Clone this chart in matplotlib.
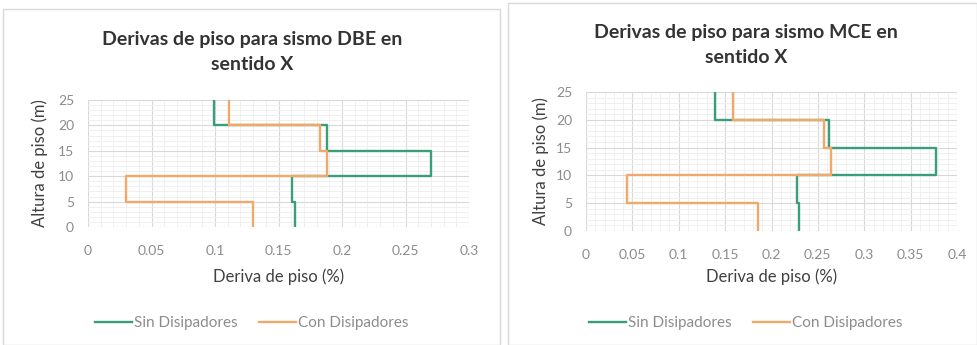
import numpy as np
import matplotlib.pyplot as plt
from matplotlib.patches import Rectangle
from matplotlib.ticker import MultipleLocator

plt.rcParams['font.family'] = ['Lato', 'DejaVu Sans']

# Alturas de piso (m) y derivas por piso (%)
alturas = [0, 5, 10, 15, 20, 25]
dbe_sin = [0.163, 0.161, 0.270, 0.188, 0.099]
dbe_con = [0.130, 0.030, 0.188, 0.183, 0.111]
mce_sin = [0.230, 0.228, 0.377, 0.262, 0.139]
mce_con = [0.185, 0.044, 0.264, 0.257, 0.159]

verde = '#3a9f78'
naranja = '#f2a868'
gris_txt = '#8c8c8c'


def perfil(derivas):
    y = np.repeat(alturas, 2)[1:-1]
    x = np.repeat(derivas, 2)
    return x, y


fig = plt.figure(figsize=(9.78, 3.45), dpi=100)
W, H = 978, 345

# marcos de los graficos
fig.patches.append(Rectangle((3 / W, 0), 497 / W, 1 - 9 / H, transform=fig.transFigure,
                             facecolor='white', edgecolor='#d9d9d9', lw=1, zorder=-10))
fig.patches.append(Rectangle((508 / W, 0), 469 / W, 1 - 3 / H, transform=fig.transFigure,
                             facecolor='white', edgecolor='#d9d9d9', lw=1, zorder=-10))


def grafico(rect, sin, con, xmax, titulo, cx, ty, ylab_x, xlab_y, leg_y):
    ax = fig.add_axes(rect)
    ax.set_facecolor('none')
    x, y = perfil(sin)
    ax.plot(x, y, color=verde, lw=1.7, label='Sin Disipadores')
    x, y = perfil(con)
    ax.plot(x, y, color=naranja, lw=1.7, label='Con Disipadores')
    ax.set_xlim(0, xmax)
    ax.set_ylim(0, 25)
    ax.xaxis.set_major_locator(MultipleLocator(0.05))
    ax.xaxis.set_minor_locator(MultipleLocator(0.01))
    ax.yaxis.set_major_locator(MultipleLocator(5))
    ax.yaxis.set_minor_locator(MultipleLocator(1))
    ax.grid(which='major', color='#d9d9d9', lw=0.8)
    ax.grid(which='minor', color='#eeeeee', lw=0.6)
    ax.set_axisbelow(True)
    for s in ax.spines.values():
        s.set_visible(False)
    ax.tick_params(which='both', length=0, labelsize=10, labelcolor=gris_txt)
    ax.tick_params(axis='x', pad=13)
    ax.tick_params(axis='y', pad=10)
    ax.set_xticklabels([('%g' % v) for v in ax.get_xticks()])
    fig.text(cx / W, 1 - ty / H, titulo, ha='center', va='center', fontsize=14,
             fontweight='bold', color='#333333', linespacing=1.55)
    fig.text(ylab_x / W, rect[1] + rect[3] / 2, 'Altura de piso (m)',
             rotation=90, ha='center', va='center', fontsize=12, color='#404040')
    fig.text(rect[0] + rect[2] / 2, 1 - xlab_y / H, 'Deriva de piso (%)',
             ha='center', va='center', fontsize=12, color='#404040')
    fig.legend(*ax.get_legend_handles_labels(), loc='center',
               bbox_to_anchor=(cx / W, 1 - leg_y / H), ncol=2, frameon=False,
               fontsize=11, labelcolor=gris_txt, handlelength=2.4, handletextpad=0.15,
               columnspacing=1.4)
    return ax


grafico([88 / W, 1 - 227 / H, 381 / W, 127 / H], dbe_sin, dbe_con, 0.3,
        'Derivas de piso para sismo DBE en\nsentido X', 252, 52, 40, 277, 323)
grafico([586 / W, 1 - 231 / H, 371 / W, 139 / H], mce_sin, mce_con, 0.4,
        'Derivas de piso para sismo MCE en\nsentido X', 746, 45, 541, 277, 323)

fig.savefig('out.png', dpi=100)
